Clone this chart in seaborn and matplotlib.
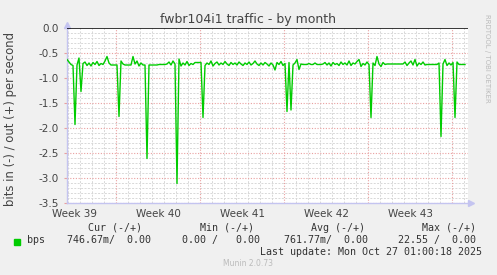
import numpy as np
import pandas as pd
import matplotlib
matplotlib.use("Agg")
import matplotlib.pyplot as plt
import matplotlib.transforms as mtransforms
import seaborn as sns

# ---------------- data ----------------
title = "fwbr104i1 traffic - by month"
y_label = "bits in (-) / out (+) per second"
week_labels = ["Week 39", "Week 40", "Week 41", "Week 42", "Week 43"]
week_label_pos = [-3.5, 3.5, 10.5, 17.5, 24.5]      # days rel. to start of week 40
week_starts = [0, 7, 14, 21, 28]
y_ticks = [0.0, -0.5, -1.0, -1.5, -2.0, -2.5, -3.0, -3.5]
y_tick_labels = ["0.0", "-0.5", "-1.0", "-1.5", "-2.0", "-2.5", "-3.0", "-3.5"]

series_start = -49 / 12   # first sample, days rel. to start of week 40
sample_step = 1 / 6       # 4-hour samples

bps_in = [
    -0.63, -0.68, -0.73, -0.75, -1.93, -0.74, -0.60, -1.27, -0.71, -0.68,
    -0.75, -0.70, -0.76, -0.69, -0.73, -0.67, -0.75, -0.71, -0.73, -0.66,
    -0.57, -0.70, -0.74, -0.74, -0.74, -0.74, -1.77, -0.66, -0.72, -0.74,
    -0.74, -0.74, -0.74, -0.57, -0.72, -0.66, -0.76, -0.70, -0.74, -0.74,
    -2.61, -0.74, -0.74, -0.74, -0.74, -0.74, -0.73, -0.73, -0.73, -0.73,
    -0.72, -0.68, -0.74, -0.66, -0.72, -3.11, -0.62, -0.76, -0.70, -0.74,
    -0.67, -0.75, -0.71, -0.73, -0.69, -0.69, -0.69, -0.69, -1.79, -0.75,
    -0.70, -0.73, -0.66, -0.76, -0.71, -0.68, -0.74, -0.70, -0.73, -0.67,
    -0.72, -0.75, -0.69, -0.73, -0.70, -0.74, -0.68, -0.72, -0.75, -0.70,
    -0.73, -0.68, -0.74, -0.71, -0.66, -0.72, -0.75, -0.70, -0.74, -0.69,
    -0.72, -0.76, -0.70, -0.74, -0.84, -0.69, -0.73, -0.67, -0.75, -0.71,
    -1.67, -0.69, -1.64, -0.74, -0.70, -0.63, -0.83, -0.72, -0.73, -0.73,
    -0.73, -0.71, -0.73, -0.73, -0.70, -0.73, -0.73, -0.73, -0.72, -0.69,
    -0.74, -0.70, -0.76, -0.69, -0.73, -0.71, -0.75, -0.68, -0.73, -0.70,
    -0.74, -0.66, -0.75, -0.70, -0.72, -0.67, -0.63, -0.77, -0.71, -0.74,
    -0.68, -0.73, -1.79, -0.70, -0.75, -0.57, -0.72, -0.77, -0.69, -0.73,
    -0.72, -0.72, -0.72, -0.72, -0.72, -0.72, -0.72, -0.72, -0.72, -0.68,
    -0.75, -0.70, -0.66, -0.74, -0.63, -0.76, -0.70, -0.73, -0.68, -0.74,
    -0.73, -0.73, -0.73, -0.73, -0.73, -0.73, -0.70, -2.17, -0.72, -0.63,
    -0.75, -0.70, -0.74, -0.69, -1.79, -0.68, -0.73, -0.73, -0.73, -0.73,
]

legend_headers = ["Cur (-/+)", "Min (-/+)", "Avg (-/+)", "Max (-/+)"]
legend_values = ["746.67m/  0.00", "0.00 /   0.00", "761.77m/  0.00", "22.55 /  0.00"]
series_name = "bps"
last_update = "Last update: Mon Oct 27 01:00:18 2025"
footer = "Munin 2.0.73"
side_text = "RRDTOOL / TOBI OETIKER"

# ---------------- figure ----------------
W, H = 497, 275
fig = plt.figure(figsize=(W / 100, H / 100), dpi=100, facecolor="#F0F0F0")
ax = fig.add_axes([67 / W, 72 / H, 401 / W, 175 / H])
ax.set_facecolor("white")

x0 = -49 / 12
x1 = x0 + 401 / 12
ax.set_xlim(x0, x1)
ax.set_ylim(-3.5, 0.0)

# grid (minor grey, major red)
minor_col = "#D8D8D8"
major_col = "#E9A0A0"
for k in range(-4, 30):
    if k % 7 != 0:
        ax.axvline(k, color=minor_col, lw=0.7, ls=(0, (2, 1.5)), zorder=0.5)
for yv in np.arange(-3.4, 0.0, 0.1):
    if abs(yv * 2 - round(yv * 2)) > 1e-6:
        ax.axhline(yv, color=minor_col, lw=0.7, ls=(0, (2, 1.5)), zorder=0.5)
for ws in week_starts:
    ax.axvline(ws, color=major_col, lw=0.8, ls=(0, (1, 1.5)), zorder=0.6)
for yv in y_ticks[1:]:
    ax.axhline(yv, color=major_col, lw=0.8, ls=(0, (1, 1.5)), zorder=0.6)

df = pd.DataFrame({
    "day": series_start + np.arange(len(bps_in)) * sample_step,
    "bps": bps_in,
})
sns.lineplot(data=df, x="day", y="bps", ax=ax, color="#00CC00", lw=1.0, zorder=3)
ax.axhline(0.0, color="black", lw=1.1, zorder=4)

# axes styling
for s in ["top", "right"]:
    ax.spines[s].set_visible(False)
for s in ["left", "bottom"]:
    ax.spines[s].set_color("#C4C4F0")
    ax.spines[s].set_linewidth(1.0)

ax.set_yticks(y_ticks)
ax.set_yticklabels(y_tick_labels)
ax.set_xticks(week_label_pos)
ax.set_xticklabels(week_labels)
ax.tick_params(axis="y", length=2, width=0.8, color="#E9A0A0", pad=4,
               labelsize=7.5, labelcolor="#444444")
ax.tick_params(axis="x", length=0, pad=4, labelsize=7.5, labelcolor="#444444")
ax.set_xlabel("")
ax.set_ylabel("")

# arrows on axes
tr_up = mtransforms.offset_copy(ax.transAxes, fig=fig, x=0, y=3, units="dots")
ax.plot([0], [1], marker="^", ms=5, color="#C4C4F0", transform=tr_up, clip_on=False)
tr_rt = mtransforms.offset_copy(ax.transAxes, fig=fig, x=3, y=0, units="dots")
ax.plot([1], [0], marker=">", ms=5, color="#C4C4F0", transform=tr_rt, clip_on=False)

def px(x, y):
    return x / W, 1 - y / H

tc = "#333333"
fig.text(*px(248, 19), title, ha="center", va="center", fontsize=9.0, color="#444444")
fig.text(*px(11, 119), y_label, ha="center", va="center", rotation=90,
         fontsize=8.4, color="#444444")
fig.text(*px(487, 14), side_text, ha="center", va="top", rotation=270,
         fontsize=5.0, color="#BBBBBB")

mono = dict(family="DejaVu Sans Mono", fontsize=7.2, color=tc, va="center")
for txt, xr in zip(legend_headers, [142, 254, 365, 476]):
    fig.text(*px(xr, 228), txt, ha="right", **mono)
fig.patches.append(plt.Rectangle(px(14, 245), 6 / W, 6 / H, transform=fig.transFigure,
                                 color="#00CC00", figure=fig))
fig.text(*px(27, 240), series_name, ha="left", **mono)
for txt, xr in zip(legend_values, [151, 260, 368, 476]):
    fig.text(*px(xr, 240), txt, ha="right", **mono)
fig.text(*px(482, 252), last_update, ha="right", **mono)
fig.text(*px(248, 264), footer, ha="center", va="center", fontsize=5.5, color="#BBBBBB")

fig.savefig("out.png", dpi=100, facecolor=fig.get_facecolor())
